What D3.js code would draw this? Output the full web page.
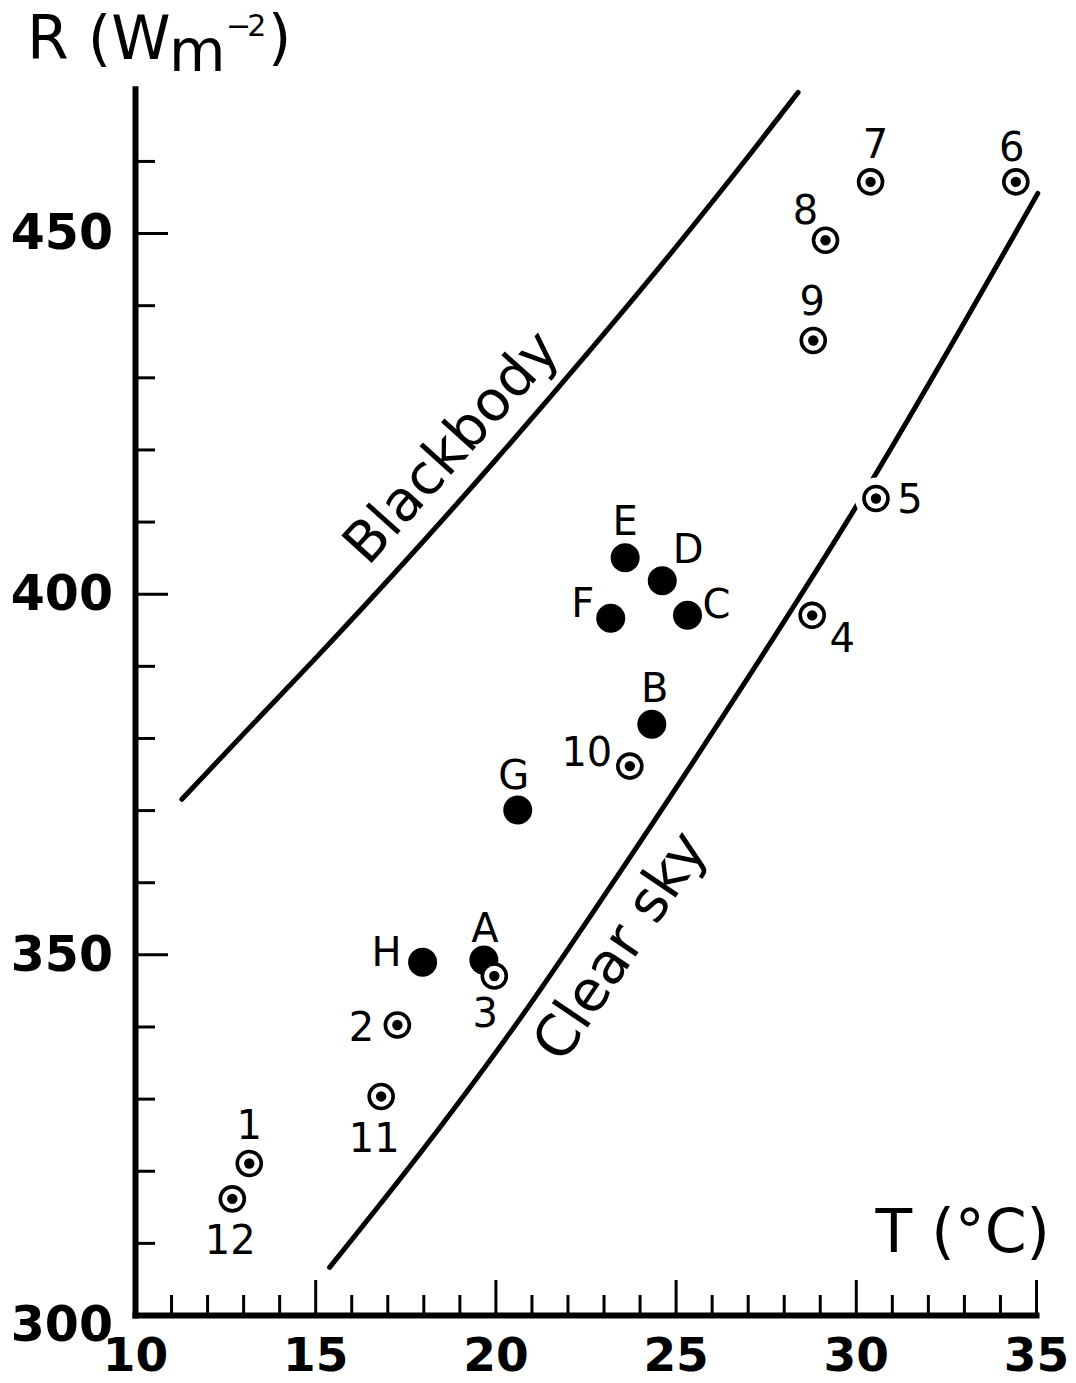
<!DOCTYPE html>
<html><head><meta charset="utf-8">
<script src="https://cdn.jsdelivr.net/npm/d3@7"></script>
<style>
html,body{margin:0;padding:0;background:#fff;}
svg{display:block;}
text{font-family:"DejaVu Sans",sans-serif;fill:#000;}
</style></head><body>
<svg id="chart" width="1076" height="1383"></svg>
<script>
// ---------------- data ----------------
const xMajorTicks = [10, 15, 20, 25, 30, 35];
const xTickLabels = ["10", "15", "20", "25", "30", "35"];
const xMinorTicks = [11,12,13,14,16,17,18,19,21,22,23,24,26,27,28,29,31,32,33,34];
const yMajorTicks = [300, 350, 400, 450];
const yTickLabels = ["300", "350", "400", "450"];
const yMinorTicks = [310,320,330,340,360,370,380,390,410,420,430,440,460];

// Blackbody curve
const blackbodyT = [11.3, 13, 15, 17.5, 20, 22.5, 25, 27, 28.4];
const blackbodyR = [371.5, 380.5, 391, 404.5, 418.5, 433, 448, 460.5, 469.5];
// Clear-sky curve
const clearSkyT = [15.4, 18, 20.7, 23, 26.6, 30, 35.05];
const clearSkyR = [306.6, 323, 341.2, 358, 385.2, 412, 455.5];

// Numbered points (open circle with dot)
const monthLabels = ["1","2","3","4","5","6","7","8","9","10","11","12"];
const monthT = [13.17, 17.28, 19.97, 28.79, 30.56, 34.44, 30.41, 29.16, 28.82, 23.73, 16.83, 12.70];
const monthR = [321.0, 340.2, 347.0, 397.0, 413.2, 457.1, 457.1, 449.0, 435.1, 376.1, 330.3, 316.1];

// Lettered points (filled)
const siteLabels = ["A","B","C","D","E","F","G","H"];
const siteT = [19.68, 24.34, 25.33, 24.63, 23.60, 23.20, 20.62, 17.98];
const siteR = [349.2, 381.9, 397.0, 401.8, 405.0, 396.6, 370.0, 348.9];

// ---------------- layout ----------------
const svg = d3.select("#chart");
const x = d3.scaleLinear().domain([10, 35]).range([135, 1036]);
const y = d3.scaleLinear().domain([300, 470]).range([1315, 88.8]);

// label placement (pixel offsets from marker)
const monthOffsets = {"1":[0,-39],"2":[-36,2],"3":[-9,37],"4":[30,22],"5":[34,0],"6":[-4,-35],
  "7":[5,-38],"8":[-20,-31],"9":[-1,-40],"10":[-43,-14],"11":[-7,41],"12":[-2,41]};
const siteOffsets = {"A":[1,-33],"B":[3,-37],"C":[29,-12],"D":[26,-32],"E":[0,-37],
  "F":[-28,-16],"G":[-4,-35],"H":[-36,-11]};

// ---------------- axes ----------------
const gx = svg.append("g").attr("transform", `translate(0,${y(300)})`);
gx.append("g").call(d3.axisBottom(x).tickValues(xMinorTicks).tickSize(-20).tickSizeOuter(0).tickFormat(""))
  .call(g => g.select(".domain").remove());
gx.append("g").call(d3.axisBottom(x).tickValues(xMajorTicks).tickSize(-35).tickSizeOuter(0)
    .tickPadding(23).tickFormat((d, i) => xTickLabels[i]))
  .call(g => g.select(".domain").attr("stroke-width", 6).attr("stroke-linecap", "square"));
gx.selectAll(".tick line").attr("stroke", "#000").attr("stroke-width", 3);
gx.selectAll(".tick text").attr("font-size", 47).attr("font-weight", "bold")
  .attr("font-family", '"DejaVu Sans",sans-serif').attr("fill", "#000");

const gy = svg.append("g").attr("transform", `translate(${x(10)},0)`);
gy.append("g").call(d3.axisLeft(y).tickValues(yMinorTicks).tickSize(-20).tickSizeOuter(0).tickFormat(""))
  .call(g => g.select(".domain").remove());
gy.append("g").call(d3.axisLeft(y).tickValues(yMajorTicks).tickSize(-33).tickSizeOuter(0)
    .tickPadding(22).tickFormat((d, i) => yTickLabels[i]))
  .call(g => g.select(".domain").attr("stroke-width", 6).attr("stroke-linecap", "square"));
gy.selectAll(".tick line").attr("stroke", "#000").attr("stroke-width", 3);
gy.selectAll(".tick text").attr("font-size", 49).attr("font-weight", "bold")
  .attr("font-family", '"DejaVu Sans",sans-serif').attr("fill", "#000")
  .attr("dy", d => d === 300 ? "0.53em" : "0.32em");

// ---------------- curves ----------------
const line = d3.line().x(d => x(d[0])).y(d => y(d[1])).curve(d3.curveMonotoneX);
svg.append("path").datum(blackbodyT.map((t, i) => [t, blackbodyR[i]]))
  .attr("d", line).attr("fill", "none").attr("stroke", "#000").attr("stroke-width", 5)
  .attr("stroke-linecap", "round");
svg.append("path").datum(clearSkyT.map((t, i) => [t, clearSkyR[i]]))
  .attr("d", line).attr("fill", "none").attr("stroke", "#000").attr("stroke-width", 5)
  .attr("stroke-linecap", "round");

// curve labels
svg.append("text").attr("transform", `translate(${x(18.74)},${y(420.5)}) rotate(-48)`)
  .attr("text-anchor", "middle").attr("dy", "0.36em").attr("font-size", 56).text("Blackbody");
svg.append("text").attr("transform", `translate(${x(23.42)},${y(351.3)}) rotate(-56)`)
  .attr("text-anchor", "middle").attr("dy", "0.36em").attr("font-size", 57).text("Clear sky");

// ---------------- points ----------------
const sites = siteLabels.map((l, i) => ({l, t: siteT[i], r: siteR[i]}));
const months = monthLabels.map((l, i) => ({l, t: monthT[i], r: monthR[i]}));

svg.append("g").selectAll("circle").data(sites).join("circle")
  .attr("cx", d => x(d.t)).attr("cy", d => y(d.r)).attr("r", 14.5).attr("fill", "#000");

// knock-out gap in the clear-sky line behind point 5
svg.append("g").selectAll("circle").data(months.filter(d => d.l === "5")).join("circle")
  .attr("cx", d => x(d.t)).attr("cy", d => y(d.r)).attr("r", 21).attr("fill", "#fff");

const mg = svg.append("g").selectAll("g").data(months).join("g")
  .attr("transform", d => `translate(${x(d.t)},${y(d.r)})`);
mg.append("circle").attr("r", 12).attr("fill", "#fff").attr("stroke", "#000").attr("stroke-width", 3.6);
mg.append("circle").attr("r", 5.2).attr("fill", "#000");

// point labels
svg.append("g").selectAll("text").data(sites).join("text")
  .attr("x", d => x(d.t) + siteOffsets[d.l][0]).attr("y", d => y(d.r) + siteOffsets[d.l][1])
  .attr("text-anchor", "middle").attr("dy", "0.36em").attr("font-size", 40).text(d => d.l);
svg.append("g").selectAll("text").data(months).join("text")
  .attr("x", d => x(d.t) + monthOffsets[d.l][0]).attr("y", d => y(d.r) + monthOffsets[d.l][1])
  .attr("text-anchor", "middle").attr("dy", "0.36em").attr("font-size", 40).text(d => d.l);

// ---------------- axis titles ----------------
svg.append("text").attr("x", 27).attr("y", 59).attr("font-size", 60).text("R (W");
svg.append("text").attr("x", 169).attr("y", 71).attr("font-size", 58).text("m");
svg.append("text").attr("x", 226).attr("y", 36).attr("font-size", 30)
  .attr("letter-spacing", -4).text("\u22122");
svg.append("text").attr("x", 268).attr("y", 58).attr("font-size", 60).text(")");

svg.append("text").attr("x", 1050).attr("y", 1252).attr("text-anchor", "end")
  .attr("font-size", 60).text("T (\u00B0C)");
</script>
</body></html>
